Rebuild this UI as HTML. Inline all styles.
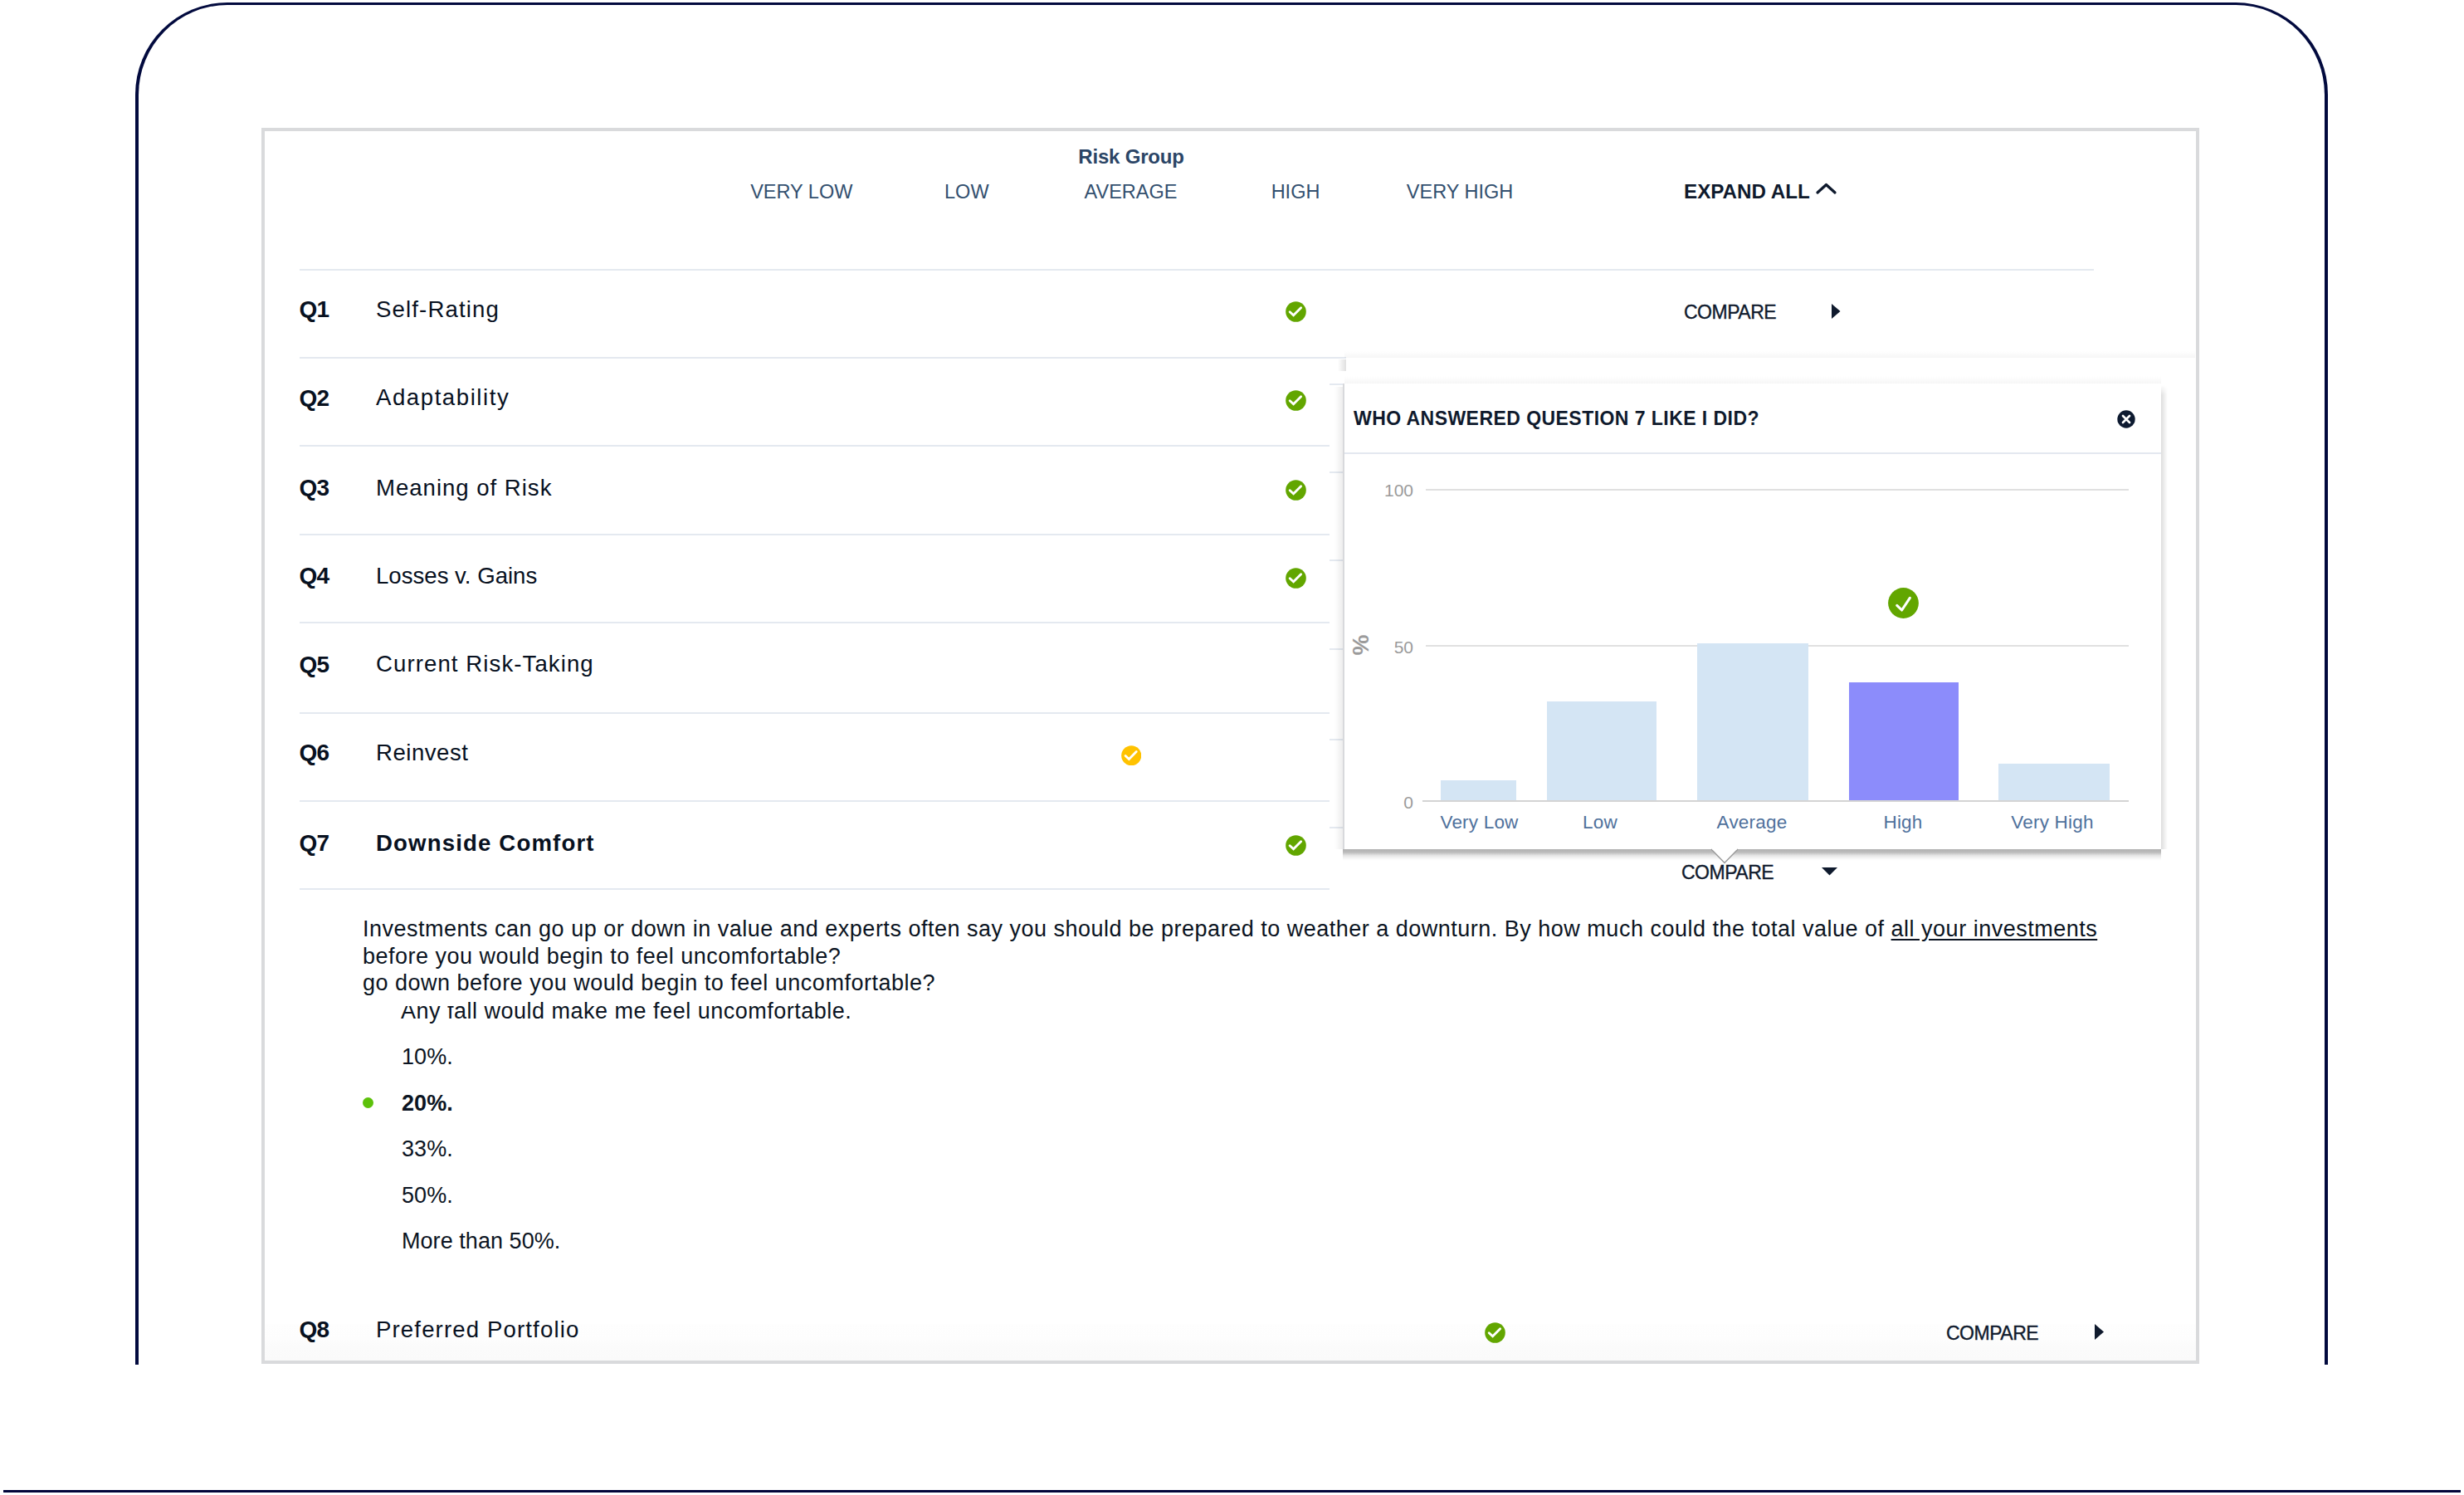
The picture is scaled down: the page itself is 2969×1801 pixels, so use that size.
<!DOCTYPE html>
<html><head><meta charset="utf-8"><title>Risk Group</title>
<style>
html,body{margin:0;padding:0;}
body{width:2969px;height:1801px;position:relative;overflow:hidden;background:#fff;font-family:"Liberation Sans",sans-serif;}
.t{position:absolute;white-space:nowrap;line-height:1;}
.r{position:absolute;display:block;}
</style></head><body>
<div class="r" style="left:163px;top:3px;width:2642px;height:1641px;box-sizing:border-box;border:4px solid #020a3e;border-top-width:3.3px;border-bottom:none;border-radius:111px 111px 0 0;"></div>
<div class="r" style="left:4px;top:1795px;width:2961px;height:3.3px;background:#01053a;"></div>
<div class="r" style="left:315px;top:154px;width:2335px;height:1489px;box-sizing:border-box;border:4px solid #d9dadc;background:#fff;"></div>
<div class="r" style="left:319px;top:1595px;width:2327px;height:44px;background:linear-gradient(#fefefe,#fdfdfd 40%,#fbfbfb 60%,#fafafa);"></div>
<div class="t" style="left:1363.0px;top:176.7px;font-size:24px;font-weight:700;color:#2b4566;letter-spacing:-0.2px;transform:translateX(-50%);">Risk Group</div>
<div class="t" style="left:965.8px;top:220.1px;font-size:23.5px;font-weight:400;color:#33506f;letter-spacing:0px;transform:translateX(-50%);">VERY LOW</div>
<div class="t" style="left:1164.8px;top:220.1px;font-size:23.5px;font-weight:400;color:#33506f;letter-spacing:0px;transform:translateX(-50%);">LOW</div>
<div class="t" style="left:1362.5px;top:220.1px;font-size:23.5px;font-weight:400;color:#33506f;letter-spacing:0px;transform:translateX(-50%);">AVERAGE</div>
<div class="t" style="left:1561.0px;top:220.1px;font-size:23.5px;font-weight:400;color:#33506f;letter-spacing:0px;transform:translateX(-50%);">HIGH</div>
<div class="t" style="left:1759.0px;top:220.1px;font-size:23.5px;font-weight:400;color:#33506f;letter-spacing:0px;transform:translateX(-50%);">VERY HIGH</div>
<div class="t" style="left:2029.0px;top:218.5px;font-size:24.2px;font-weight:700;color:#0f1a2d;letter-spacing:0px;">EXPAND ALL</div>
<svg class="r" style="left:2186px;top:218px" width="29" height="19" viewBox="0 0 29 19"><path d="M4 14 L14.5 4.5 L25 14" fill="none" stroke="#0f1a2d" stroke-width="3.3" stroke-linecap="round" stroke-linejoin="round"/></svg>
<div class="r" style="left:361px;top:324px;width:2162px;height:2px;background:#e4e9f0;"></div>
<div class="r" style="left:361px;top:430px;width:1241px;height:2px;background:#e4e9f0;"></div>
<div class="r" style="left:361px;top:536px;width:1241px;height:2px;background:#e4e9f0;"></div>
<div class="r" style="left:361px;top:643px;width:1241px;height:2px;background:#e4e9f0;"></div>
<div class="r" style="left:361px;top:749px;width:1241px;height:2px;background:#e4e9f0;"></div>
<div class="r" style="left:361px;top:858px;width:1241px;height:2px;background:#e4e9f0;"></div>
<div class="r" style="left:361px;top:964px;width:1241px;height:2px;background:#e4e9f0;"></div>
<div class="r" style="left:361px;top:1070px;width:1241px;height:2px;background:#e4e9f0;"></div>
<div class="t" style="left:360.5px;top:359.1px;font-size:28px;font-weight:700;color:#08111f;letter-spacing:-0.8px;">Q1</div>
<div class="t" style="left:453.0px;top:358.8px;font-size:27.6px;font-weight:400;color:#08111f;letter-spacing:1.14px;">Self-Rating</div>
<div class="t" style="left:360.5px;top:465.5px;font-size:28px;font-weight:700;color:#08111f;letter-spacing:-0.8px;">Q2</div>
<div class="t" style="left:453.0px;top:465.2px;font-size:27.6px;font-weight:400;color:#08111f;letter-spacing:1.55px;">Adaptability</div>
<div class="t" style="left:360.5px;top:573.9px;font-size:28px;font-weight:700;color:#08111f;letter-spacing:-0.8px;">Q3</div>
<div class="t" style="left:453.0px;top:573.6px;font-size:27.6px;font-weight:400;color:#08111f;letter-spacing:0.97px;">Meaning of Risk</div>
<div class="t" style="left:360.5px;top:680.4px;font-size:28px;font-weight:700;color:#08111f;letter-spacing:-0.8px;">Q4</div>
<div class="t" style="left:453.0px;top:680.1px;font-size:27.6px;font-weight:400;color:#08111f;letter-spacing:0.0px;">Losses v. Gains</div>
<div class="t" style="left:360.5px;top:786.6px;font-size:28px;font-weight:700;color:#08111f;letter-spacing:-0.8px;">Q5</div>
<div class="t" style="left:453.0px;top:786.3px;font-size:27.6px;font-weight:400;color:#08111f;letter-spacing:1.08px;">Current Risk-Taking</div>
<div class="t" style="left:360.5px;top:892.9px;font-size:28px;font-weight:700;color:#08111f;letter-spacing:-0.8px;">Q6</div>
<div class="t" style="left:453.0px;top:892.6px;font-size:27.6px;font-weight:400;color:#08111f;letter-spacing:0.5px;">Reinvest</div>
<div class="t" style="left:360.5px;top:1001.9px;font-size:28px;font-weight:700;color:#08111f;letter-spacing:-0.8px;">Q7</div>
<div class="t" style="left:453.0px;top:1001.6px;font-size:27.6px;font-weight:700;color:#08111f;letter-spacing:1.15px;">Downside Comfort</div>
<svg class="r" style="left:1549.0px;top:363.2px" width="25" height="25" viewBox="0 0 25 25"><circle cx="12.5" cy="12.5" r="12.3" fill="#62a600"/><path d="M5.2 12.7 L9.6 16.8 L18.6 7.7" fill="none" stroke="#fff" stroke-width="2.9" stroke-linecap="round" stroke-linejoin="miter"/></svg>
<svg class="r" style="left:1549.0px;top:469.5px" width="25" height="25" viewBox="0 0 25 25"><circle cx="12.5" cy="12.5" r="12.3" fill="#62a600"/><path d="M5.2 12.7 L9.6 16.8 L18.6 7.7" fill="none" stroke="#fff" stroke-width="2.9" stroke-linecap="round" stroke-linejoin="miter"/></svg>
<svg class="r" style="left:1549.0px;top:578.0px" width="25" height="25" viewBox="0 0 25 25"><circle cx="12.5" cy="12.5" r="12.3" fill="#62a600"/><path d="M5.2 12.7 L9.6 16.8 L18.6 7.7" fill="none" stroke="#fff" stroke-width="2.9" stroke-linecap="round" stroke-linejoin="miter"/></svg>
<svg class="r" style="left:1549.0px;top:684.3px" width="25" height="25" viewBox="0 0 25 25"><circle cx="12.5" cy="12.5" r="12.3" fill="#62a600"/><path d="M5.2 12.7 L9.6 16.8 L18.6 7.7" fill="none" stroke="#fff" stroke-width="2.9" stroke-linecap="round" stroke-linejoin="miter"/></svg>
<svg class="r" style="left:1549.0px;top:1005.7px" width="25" height="25" viewBox="0 0 25 25"><circle cx="12.5" cy="12.5" r="12.3" fill="#62a600"/><path d="M5.2 12.7 L9.6 16.8 L18.6 7.7" fill="none" stroke="#fff" stroke-width="2.9" stroke-linecap="round" stroke-linejoin="miter"/></svg>
<svg class="r" style="left:1350.5px;top:897.5px" width="24.5" height="24.5" viewBox="0 0 25 25"><circle cx="12.5" cy="12.5" r="12.3" fill="#ffc200"/><path d="M5.2 12.7 L9.6 16.8 L18.6 7.7" fill="none" stroke="#fff" stroke-width="2.9" stroke-linecap="round" stroke-linejoin="miter"/></svg>
<div class="t" style="left:2029.0px;top:364.9px;font-size:23px;font-weight:400;color:#0f1a2d;letter-spacing:-0.5px;-webkit-text-stroke:0.35px #0f1a2d;">COMPARE</div>
<svg class="r" style="left:2207px;top:366px" width="11" height="18" viewBox="0 0 11 18"><path d="M0 0 L10.5 9 L0 18 Z" fill="#0f1a2d"/></svg>
<div class="t" style="left:437.0px;top:1105.8px;font-size:27px;font-weight:400;color:#0b1422;letter-spacing:0.5px;">Investments can go up or down in value and experts often say you should be prepared to weather a downturn. By how much could the total value of <u style="text-underline-offset:3px">all your investments</u></div>
<div class="t" style="left:437.0px;top:1139.1px;font-size:27px;font-weight:400;color:#0b1422;letter-spacing:0.5px;">before you would begin to feel uncomfortable?</div>
<div class="t" style="left:437.0px;top:1171.1px;font-size:27px;font-weight:400;color:#0b1422;letter-spacing:0.5px;">go down before you would begin to feel uncomfortable?</div>
<div class="t" style="left:483.0px;top:1204.9px;font-size:27px;font-weight:400;color:#0b1422;letter-spacing:0.5px;">Any fall would make me feel uncomfortable.</div>
<div class="r" style="left:478px;top:1198px;width:72px;height:13.8px;background:#fff;"></div>
<div class="t" style="left:484.0px;top:1259.8px;font-size:27px;font-weight:400;color:#0b1422;letter-spacing:0.05px;">10%.</div>
<div class="t" style="left:484.0px;top:1315.6px;font-size:27px;font-weight:700;color:#0b1422;letter-spacing:0.05px;">20%.</div>
<div class="t" style="left:484.0px;top:1371.3px;font-size:27px;font-weight:400;color:#0b1422;letter-spacing:0.05px;">33%.</div>
<div class="t" style="left:484.0px;top:1426.6px;font-size:27px;font-weight:400;color:#0b1422;letter-spacing:0.05px;">50%.</div>
<div class="t" style="left:484.0px;top:1481.9px;font-size:27px;font-weight:400;color:#0b1422;letter-spacing:0.05px;">More than 50%.</div>
<div class="r" style="left:437px;top:1322px;width:13px;height:13px;border-radius:50%;background:#5cc10a"></div>
<div class="t" style="left:360.5px;top:1587.9px;font-size:28px;font-weight:700;color:#08111f;letter-spacing:-0.8px;">Q8</div>
<div class="t" style="left:453.0px;top:1587.6px;font-size:27.6px;font-weight:400;color:#08111f;letter-spacing:1.13px;">Preferred Portfolio</div>
<svg class="r" style="left:1789.2px;top:1593.0px" width="25" height="25" viewBox="0 0 25 25"><circle cx="12.5" cy="12.5" r="12.3" fill="#62a600"/><path d="M5.2 12.7 L9.6 16.8 L18.6 7.7" fill="none" stroke="#fff" stroke-width="2.9" stroke-linecap="round" stroke-linejoin="miter"/></svg>
<div class="t" style="left:2345.0px;top:1595.0px;font-size:23px;font-weight:400;color:#0f1a2d;letter-spacing:-0.5px;-webkit-text-stroke:0.35px #0f1a2d;">COMPARE</div>
<svg class="r" style="left:2524px;top:1595px" width="11" height="19" viewBox="0 0 11 19"><path d="M0 0 L11 9.5 L0 19 Z" fill="#0f1a2d"/></svg>
<div class="r" style="left:1602px;top:430px;width:20px;height:2px;background:#e4e9f0;"></div>
<div class="r" style="left:1620px;top:423px;width:1025px;height:8px;background:linear-gradient(rgba(0,0,0,0),rgba(0,0,0,0.035));"></div>
<div class="r" style="left:1612px;top:433px;width:10px;height:14px;background:linear-gradient(90deg,rgba(0,0,0,0),rgba(0,0,0,0.12));"></div>
<div class="r" style="left:1602px;top:462px;width:18px;height:2px;background:#e4e9f0;"></div>
<div class="r" style="left:1602px;top:568px;width:17px;height:2px;background:#e4e9f0;"></div>
<div class="r" style="left:1602px;top:674px;width:17px;height:2px;background:#e4e9f0;"></div>
<div class="r" style="left:1602px;top:780.5px;width:17px;height:2px;background:#e4e9f0;"></div>
<div class="r" style="left:1602px;top:889.5px;width:17px;height:2px;background:#e4e9f0;"></div>
<div class="r" style="left:1602px;top:995.5px;width:17px;height:2px;background:#e4e9f0;"></div>
<div class="r" style="left:1620px;top:453px;width:984px;height:9px;background:linear-gradient(rgba(0,0,0,0),rgba(0,0,0,0.035));"></div>
<div class="r" style="left:1618px;top:462px;width:986px;height:561px;background:#fff;border-left:2px solid #d8d9dc;box-sizing:border-box"></div>
<div class="r" style="left:1608px;top:466px;width:10px;height:557px;background:linear-gradient(90deg,rgba(0,0,0,0),rgba(0,0,0,0.07));"></div>
<div class="r" style="left:2604px;top:464px;width:8px;height:559px;background:linear-gradient(90deg,rgba(0,0,0,0.13),rgba(0,0,0,0));-webkit-mask-image:linear-gradient(rgba(0,0,0,0),#000 12px);mask-image:linear-gradient(rgba(0,0,0,0),#000 12px)"></div>
<div class="r" style="left:1618px;top:1023px;width:986px;height:14px;background:linear-gradient(rgba(0,0,0,0.30),rgba(0,0,0,0.27) 25%,rgba(0,0,0,0.10) 55%,rgba(0,0,0,0.02) 85%,rgba(0,0,0,0));"></div>
<div class="t" style="left:1631.0px;top:492.8px;font-size:23px;font-weight:700;color:#0f1a2d;letter-spacing:0.45px;">WHO ANSWERED QUESTION 7 LIKE I DID?</div>
<svg class="r" style="left:2551px;top:494px" width="22" height="22" viewBox="0 0 22 22"><circle cx="11" cy="11" r="10.7" fill="#0d1a30"/><path d="M7 7 L15 15 M15 7 L7 15" stroke="#fff" stroke-width="2.6" stroke-linecap="round"/></svg>
<div class="r" style="left:1620px;top:545px;width:984px;height:2px;background:#e3e8f0;"></div>
<div class="r" style="left:1718px;top:589px;width:847px;height:2px;background:#e0e0e0;"></div>
<div class="r" style="left:1718px;top:777px;width:847px;height:2px;background:#e0e0e0;"></div>
<div class="t" style="left:1703.0px;top:579.7px;font-size:21px;font-weight:400;color:#9b9b9b;letter-spacing:0px;transform:translateX(-100%);">100</div>
<div class="t" style="left:1703.0px;top:769.2px;font-size:21px;font-weight:400;color:#9b9b9b;letter-spacing:0px;transform:translateX(-100%);">50</div>
<div class="t" style="left:1703.0px;top:956.2px;font-size:21px;font-weight:400;color:#9b9b9b;letter-spacing:0px;transform:translateX(-100%);">0</div>
<div class="t" style="left:1620px;top:763px;width:40px;height:28px;text-align:center;font-size:28px;line-height:28px;font-weight:700;color:#9b9b9b;transform:rotate(-90deg);">%</div>
<div class="r" style="left:1736px;top:939.5px;width:91px;height:25.5px;background:#d4e5f4;"></div>
<div class="r" style="left:1864px;top:844.5px;width:132px;height:120.5px;background:#d4e5f4;"></div>
<div class="r" style="left:2045px;top:775.2px;width:134px;height:189.79999999999995px;background:#d4e5f4;"></div>
<div class="r" style="left:2228px;top:822px;width:132px;height:143px;background:#8c8cfb;"></div>
<div class="r" style="left:2408px;top:920px;width:134px;height:45px;background:#d4e5f4;"></div>
<div class="r" style="left:1714px;top:964px;width:851px;height:2.2px;background:#d4d4d4;"></div>
<div class="t" style="left:1782.5px;top:980.3px;font-size:22.5px;font-weight:400;color:#4f719c;letter-spacing:0.2px;transform:translateX(-50%);">Very Low</div>
<div class="t" style="left:1928.0px;top:980.3px;font-size:22.5px;font-weight:400;color:#4f719c;letter-spacing:0.2px;transform:translateX(-50%);">Low</div>
<div class="t" style="left:2111.0px;top:980.3px;font-size:22.5px;font-weight:400;color:#4f719c;letter-spacing:0.2px;transform:translateX(-50%);">Average</div>
<div class="t" style="left:2293.0px;top:980.3px;font-size:22.5px;font-weight:400;color:#4f719c;letter-spacing:0.2px;transform:translateX(-50%);">High</div>
<div class="t" style="left:2473.0px;top:980.3px;font-size:22.5px;font-weight:400;color:#4f719c;letter-spacing:0.2px;transform:translateX(-50%);">Very High</div>
<svg class="r" style="left:2275px;top:707.5px" width="37" height="37" viewBox="0 0 37 37"><circle cx="18.5" cy="18.5" r="18.4" fill="#62a600"/><path d="M10.8 21.4 L16.6 27 L26.3 12.3" fill="none" stroke="#fff" stroke-width="3.1" stroke-linecap="round" stroke-linejoin="round"/></svg>
<svg class="r" style="left:2061px;top:1021px" width="34" height="20" viewBox="0 0 34 20"><path d="M1 2 L17 18.5 L33 2" fill="#fff" stroke="#9a9a9a" stroke-width="1.4"/><rect x="2" y="0" width="30" height="2.5" fill="#fff"/></svg>
<div class="t" style="left:2026.0px;top:1039.7px;font-size:23px;font-weight:400;color:#0f1a2d;letter-spacing:-0.5px;-webkit-text-stroke:0.35px #0f1a2d;">COMPARE</div>
<svg class="r" style="left:2195px;top:1045px" width="19" height="10" viewBox="0 0 19 10"><path d="M0 0 L19 0 L9.5 9.5 Z" fill="#0f1a2d"/></svg>
</body></html>
